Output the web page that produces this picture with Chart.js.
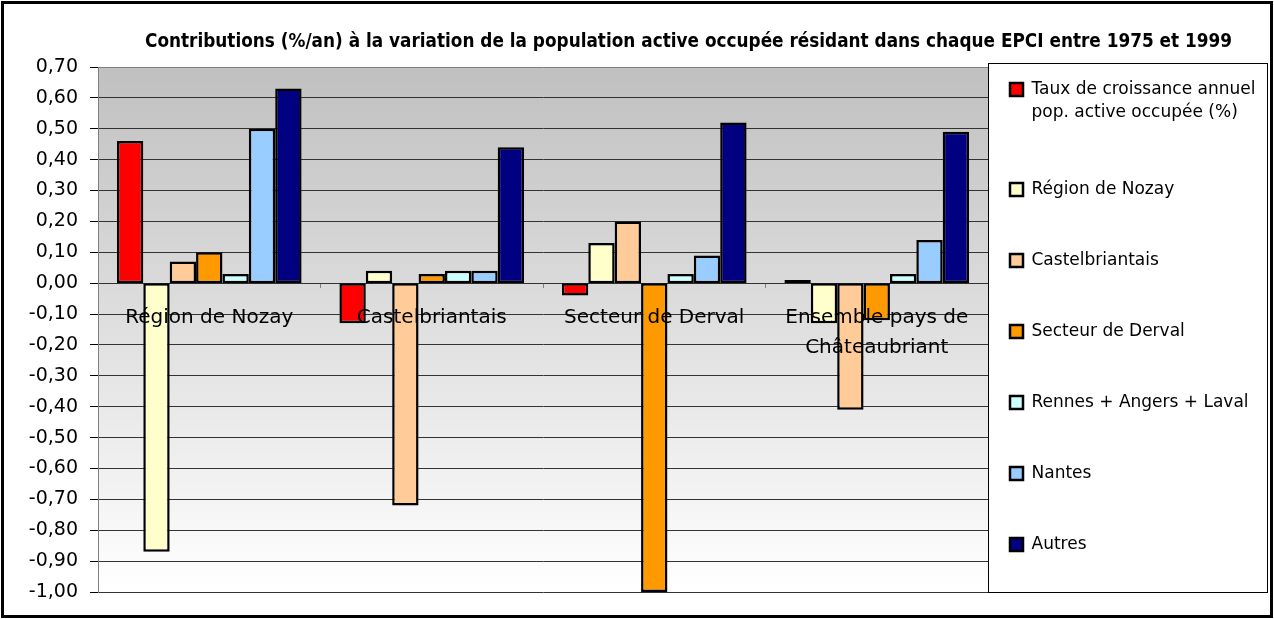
<!DOCTYPE html>
<html>
<head>
<meta charset="utf-8">
<script src="https://cdn.jsdelivr.net/npm/chart.js@4.4.1/dist/chart.umd.min.js"></script>
<style>
html,body{margin:0;padding:0;background:#fff;}
#wrap{position:relative;width:1274px;height:619px;}
</style>
</head>
<body>
<div id="wrap"><canvas id="contribChart"></canvas></div>
<script>
// Contributions (%/an) par EPCI, 1975-1999

const categories = [
"Région de Nozay",
"Castelbriantais",
"Secteur de Derval",
["Ensemble pays de", "Châteaubriant"]
];

const seriesNames = [
"Taux de croissance annuel\npop. active occupée (%)",
"Région de Nozay",
"Castelbriantais",
"Secteur de Derval",
"Rennes + Angers + Laval",
"Nantes",
"Autres"
];

const tauxCroissance = [0.46, -0.13, -0.04, 0.01];
const nozay = [-0.87, 0.04, 0.13, -0.13];
const castelbriantais = [0.07, -0.72, 0.20, -0.41];
const derval = [0.10, 0.03, -1.00, -0.12];
const rennesAngersLaval = [0.03, 0.04, 0.03, 0.03];
const nantes = [0.50, 0.04, 0.09, 0.14];
const autres = [0.63, 0.44, 0.52, 0.49];

// axe des valeurs
const yMin = -1.0;
const yMax = 0.7;
const yStep = 0.1;

const colors = ["#ff0000", "#ffffcc", "#ffcc99", "#ff9900", "#ccffff", "#99ccff", "#000080"];
const values = [tauxCroissance, nozay, castelbriantais, derval, rennesAngersLaval, nantes, autres];

const LEG_PAD = 54;

const frame = {
id: "frame",
afterLayout(chart) {
const a = chart.chartArea;
// titre centré sur la zone du graphique + légende
chart.titleBlock.left = 145;
chart.titleBlock.right = 1232;
// légende : cadre fixe à droite de la zone de tracé
chart.legend.left = a.right + 22 - LEG_PAD;
chart.legend.top = a.top + 14 - LEG_PAD;
chart.legend.bottom = chart.height;
},
beforeDraw(chart) {
const {ctx, chartArea: a} = chart;
const g = ctx.createLinearGradient(0, a.top, 0, a.bottom);
g.addColorStop(0, "#c0c0c0");
g.addColorStop(1, "#ffffff");
ctx.save();
ctx.fillStyle = g;
ctx.fillRect(a.left, a.top, a.right - a.left, a.bottom - a.top);
ctx.restore();
},
afterDraw(chart) {
const {ctx, chartArea: a} = chart;
ctx.save();
ctx.strokeStyle = "#000";
ctx.lineWidth = 1;
ctx.strokeRect(a.right + 0.5, a.top - 3.5, chart.width - 7 - a.right, a.bottom - a.top + 4);
ctx.lineWidth = 3;
ctx.strokeRect(2.5, 2.5, chart.width - 5, chart.height - 5);
ctx.restore();
}
};

Chart.defaults.color = "#000";
Chart.defaults.font.family = "'DejaVu Sans', Verdana, sans-serif";

new Chart(
document.getElementById("contribChart"),
{
type: "bar",

data: {
labels: categories,
datasets: seriesNames.map((name, i) => ({
label: name,
data: values[i],
backgroundColor: colors[i],
borderColor: "#000",
borderWidth: 2.5,
borderSkipped: false
}))
},

options: {
responsive: true,
maintainAspectRatio: false,
animation: false,
layout: {padding: {left: 0, right: 0, top: 0, bottom: 27}},
datasets: {
bar: {categoryPercentage: 0.83, barPercentage: 1.0}
},
scales: {
x: {
position: {y: 0},
grid: {display: true, drawOnChartArea: false, drawTicks: true, tickLength: 5, color: "#808080"},
border: {display: false},
ticks: {z: 1, padding: 15, font: {size: 20, lineHeight: 1.5}, maxRotation: 0, autoSkip: false}
},
y: {
min: yMin,
max: yMax,
afterFit(s) { s.width = 98; },
grid: {
color: ctx => (ctx.tick && Math.abs(ctx.tick.value - yMax) < 1e-9 ? "#808080" : "#333333"),
tickColor: "#000",
tickLength: 8
},
border: {color: "#808080"},
ticks: {
stepSize: yStep,
padding: 12,
font: {size: 19},
callback: v => (Math.abs(v) < 1e-9 ? 0 : v).toFixed(2).replace(".", ",")
}
}
},
plugins: {
title: {
display: true,
fullSize: false,
text: "Contributions (%/an) à la variation de la population active occupée résidant dans chaque EPCI entre 1975 et 1999",
font: {size: 20, weight: "bold"},
padding: {top: 30, bottom: 13}
},
legend: {
position: "right",
align: "start",
maxWidth: 286,
labels: {
boxWidth: 13,
boxHeight: 13,
padding: LEG_PAD,
font: {size: 17, lineHeight: 1.35},
generateLabels(chart) {
const items = Chart.defaults.plugins.legend.labels.generateLabels(chart);
items.forEach(it => { if (it.text.indexOf("\n") >= 0) it.text = it.text.split("\n"); });
return items;
}
}
},
tooltip: {enabled: false}
}
},
plugins: [frame]
}
);
</script>
</body>
</html>
